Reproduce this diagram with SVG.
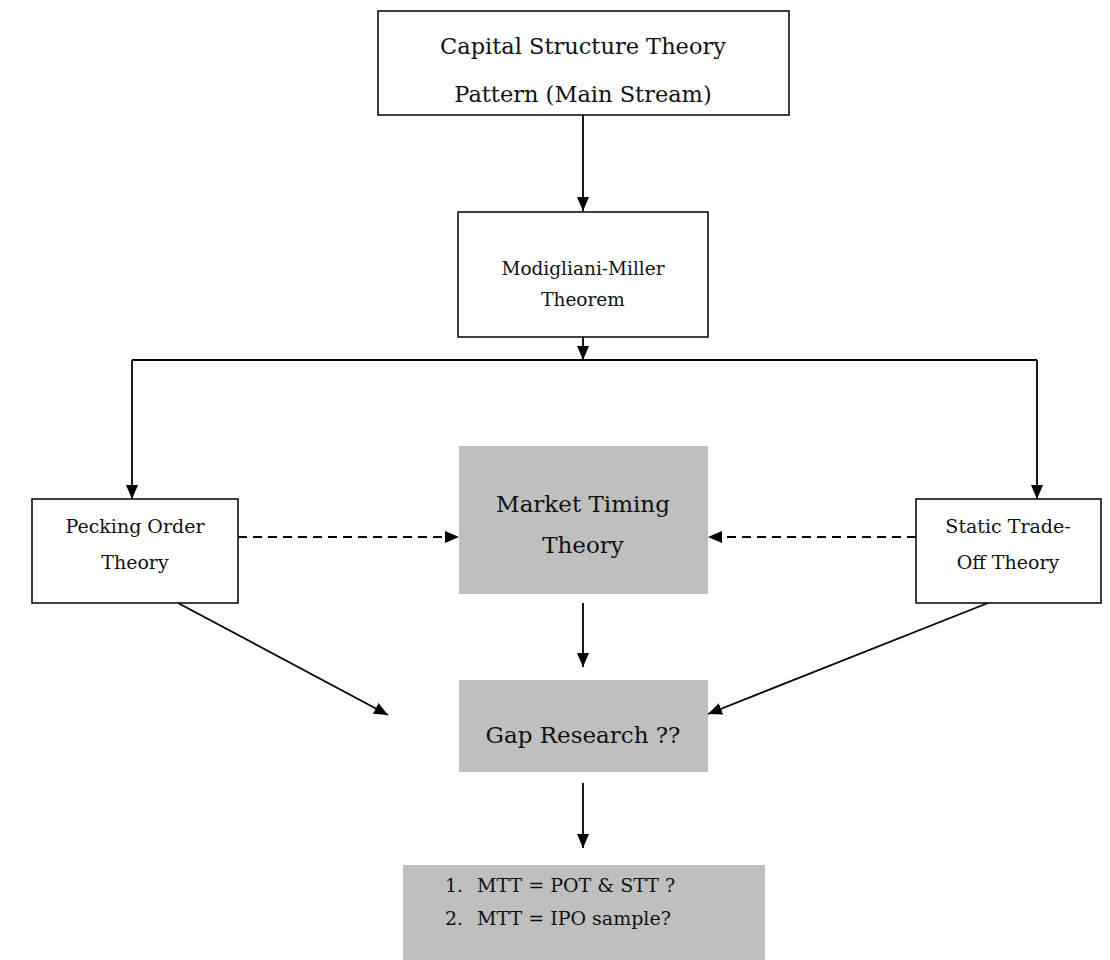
<svg xmlns="http://www.w3.org/2000/svg" width="1110" height="960" viewBox="0 0 1110 960">
<style>
.box{fill:#fff;stroke:#000;stroke-width:1.5}
.gray{fill:#bfbfbf;stroke:none}
text{font-family:"DejaVu Serif","Liberation Serif",serif;fill:#111;text-anchor:middle}
.big{font-size:22.5px}
.mt{font-size:23px}
.sm{font-size:18.5px}
.sd{font-size:19px}
.ls{font-size:19px;text-anchor:start}
.ln{fill:none;stroke:#000;stroke-width:1.8}
.dash{stroke-dasharray:9 6}
</style>
<defs>
<marker id="ah" viewBox="0 0 14 12" refX="14" refY="6" markerWidth="14" markerHeight="12" markerUnits="userSpaceOnUse" orient="auto">
<path d="M0,0 L14,6 L0,12 Z" fill="#000"/>
</marker>
</defs>
<rect width="1110" height="960" fill="#fff"/>
<g id="n-capital">
<rect class="box" x="378" y="11" width="411" height="104"/>
<text class="big" x="583" y="54">Capital Structure Theory</text>
<text class="big" x="583" y="102">Pattern (Main Stream)</text>
</g>
<g id="n-mm">
<rect class="box" x="458" y="212" width="250" height="125"/>
<text class="sm" x="583" y="275">Modigliani-Miller</text>
<text class="sm" x="583" y="306">Theorem</text>
</g>
<g id="n-pot">
<rect class="box" x="32" y="499" width="206" height="104"/>
<text class="sd" x="135" y="533">Pecking Order</text>
<text class="sd" x="135" y="569">Theory</text>
</g>
<g id="n-mtt">
<rect class="gray" x="459" y="446" width="249" height="148"/>
<text class="mt" x="583" y="512">Market Timing</text>
<text class="mt" x="583" y="553">Theory</text>
</g>
<g id="n-stt">
<rect class="box" x="916" y="499" width="185" height="104"/>
<text class="sd" x="1008" y="533">Static Trade-</text>
<text class="sd" x="1008" y="569">Off Theory</text>
</g>
<g id="n-gap">
<rect class="gray" x="459" y="680" width="249" height="92"/>
<text class="mt" x="583" y="743">Gap Research ??</text>
</g>
<g id="n-q">
<rect class="gray" x="403" y="865" width="362" height="95"/>
<text class="ls" x="445" y="892">1.</text>
<text class="ls" x="477" y="892">MTT = POT &amp; STT ?</text>
<text class="ls" x="445" y="925">2.</text>
<text class="ls" x="477" y="925">MTT = IPO sample?</text>
</g>
<g id="connectors">
<path class="ln" d="M583,115 V211" marker-end="url(#ah)"/>
<path class="ln" d="M583,337 V360" marker-end="url(#ah)"/>
<path class="ln" d="M132,360 H1037"/>
<path class="ln" d="M132,360 V499" marker-end="url(#ah)"/>
<path class="ln" d="M1037,360 V499" marker-end="url(#ah)"/>
<path class="ln dash" d="M238,537 H459" marker-end="url(#ah)"/>
<path class="ln dash" d="M916,537 H708" marker-end="url(#ah)"/>
<path class="ln" d="M583,603 V667" marker-end="url(#ah)"/>
<path class="ln" d="M178,603 L388,715" marker-end="url(#ah)"/>
<path class="ln" d="M988,603 L708,714" marker-end="url(#ah)"/>
<path class="ln" d="M583,783 V848" marker-end="url(#ah)"/>
</g>
</svg>
